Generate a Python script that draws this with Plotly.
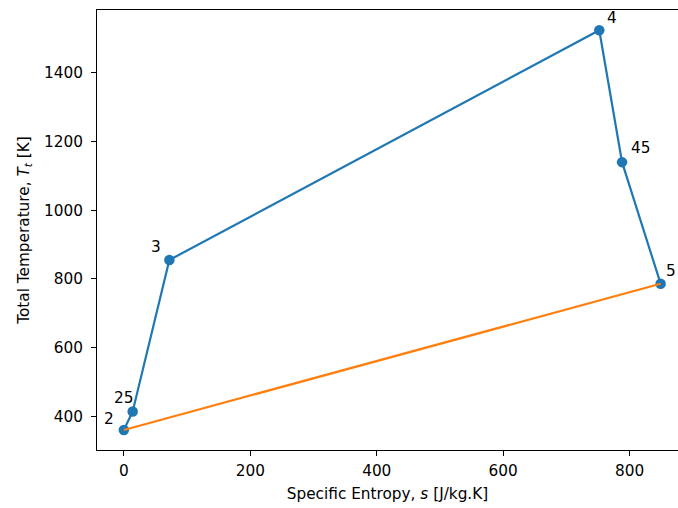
import plotly.graph_objects as go

# Cycle state points: station number, specific entropy [J/kg.K], total temperature [K]
stations = ["2", "25", "3", "4", "45", "5"]
entropy = [0, 14, 72, 752, 788, 849]
total_temp = [360, 414, 855, 1524, 1140, 786]

BLUE = "#1f77b4"
ORANGE = "#ff7f0e"
FONT = dict(family="DejaVu Sans", size=15.3, color="#000000")

fig = go.Figure()

# Open path through the stations, with markers
fig.add_trace(go.Scatter(
    x=entropy, y=total_temp, mode="lines+markers",
    line=dict(color=BLUE, width=2.2),
    marker=dict(color=BLUE, size=10.5),
    hoverinfo="skip", showlegend=False,
))

# Closing segment from the last station back to the first
fig.add_trace(go.Scatter(
    x=[entropy[-1], entropy[0]], y=[total_temp[-1], total_temp[0]], mode="lines",
    line=dict(color=ORANGE, width=2.2),
    hoverinfo="skip", showlegend=False,
))

# Station labels: which side of the point and pixel offsets
label_offsets = {
    "2": ("right", -9, 1),
    "25": ("right", 1, 3),
    "3": ("right", -7, 3),
    "4": ("left", 7, 2),
    "45": ("left", 8, 4),
    "5": ("left", 4, 3),
}
for name, s, t in zip(stations, entropy, total_temp):
    anchor, dx, dy = label_offsets[name]
    fig.add_annotation(
        x=s, y=t, text=name, showarrow=False,
        xanchor=anchor, yanchor="bottom", xshift=dx, yshift=dy,
        font=FONT, borderpad=0,
    )

axis_common = dict(
    showgrid=False, zeroline=False,
    showline=True, linecolor="#000000", linewidth=1.1,
    ticks="outside", ticklen=5, tickwidth=1.1, tickcolor="#000000",
    tickfont=FONT,
)

fig.update_xaxes(
    range=[-42.45, 876.5], tickvals=[0, 200, 400, 600, 800],
    mirror=True, ticklabelstandoff=2,
    title=dict(text="Specific Entropy, <i>s</i> [J/kg.K]", font=FONT, standoff=8),
    **axis_common,
)
fig.update_yaxes(
    range=[301.7, 1583], tickvals=[400, 600, 800, 1000, 1200, 1400],
    mirror=False, ticklabelstandoff=5,
    title=dict(text="Total Temperature, <i>T</i><sub><i>t</i></sub> [K]", font=FONT, standoff=10),
    **axis_common,
)

fig.update_layout(
    width=678, height=508,
    margin=dict(l=97, r=0, t=10, b=58),
    paper_bgcolor="white", plot_bgcolor="white",
    font=FONT,
)

fig.write_html("out.html")
